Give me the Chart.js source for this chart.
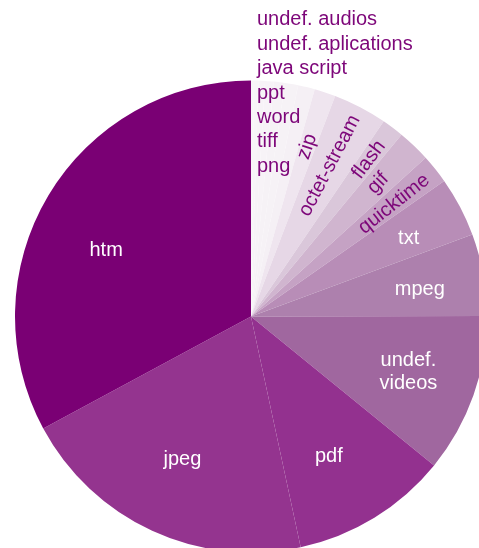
<!DOCTYPE html>
<html>
<head>
<meta charset="utf-8">
<script src="https://cdn.jsdelivr.net/npm/chart.js@4.4.0/dist/chart.umd.min.js"></script>
<style>
  html, body { margin: 0; padding: 0; background: #fff; overflow: hidden; }
  #chart { display: block; }
</style>
</head>
<body>
<canvas id="chart" width="502" height="560"></canvas>
<script>
// share of each file type (percent), clockwise from 12 o'clock
let fileTypes = ['undef. audios', 'undef. aplications', 'java script', 'ppt', 'word', 'tiff', 'png',
    'zip', 'octet-stream', 'flash', 'gif', 'quicktime', 'txt', 'mpeg', 'undef. videos', 'pdf', 'jpeg', 'htm'];
let shares = [0.2, 0.3, 0.45, 0.6, 0.75, 0.9, 1.15,
    1.45, 3.7, 1.5, 2.25, 2.0, 4.1, 5.6, 10.9, 10.75, 20.5, 32.85];

let sliceColors = ['#f8f4f8', '#f8f4f8', '#f7f3f7', '#f7f3f7', '#f6f2f6', '#f6f2f6', '#f5f0f5',
    '#efe5ef', '#e6d7e6', '#dac7da', '#d0b5cf', '#c5a2c4', '#b88db7', '#ad80ad', '#a0679f', '#93318f', '#94348f', '#7a0074'];

const purple = '#7d0679';
const font = '20px "Liberation Sans", Arial, Helvetica, sans-serif';

// how each label is drawn: 'radial' = rotated purple, 'flat' = horizontal white, others stacked above the pie
// r = distance from centre, turn = small angular nudge in degrees
let labelStyle = {
    'zip': { kind: 'radial', r: 179, turn: 0 },
    'octet-stream': { kind: 'radial', r: 170, turn: 0 },
    'flash': { kind: 'radial', r: 196, turn: 0 },
    'gif': { kind: 'radial', r: 184, turn: 0 },
    'quicktime': { kind: 'radial', r: 182, turn: 0.5 },
    'txt': { kind: 'flat', r: 176, turn: 1.3 },
    'mpeg': { kind: 'flat', r: 171, turn: 1 },
    'undef. videos': { kind: 'flat', r: 167, turn: 0 },
    'pdf': { kind: 'flat', r: 160, turn: 2.4 },
    'jpeg': { kind: 'flat', r: 159, turn: 0.8 },
    'htm': { kind: 'flat', r: 159, turn: -6.5 }
};

let sliceLabels = {
    id: 'sliceLabels',
    afterDatasetsDraw(chart) {
        let ctx = chart.ctx;
        let arcs = chart.getDatasetMeta(0).data;
        ctx.save();
        ctx.font = font;
        let stackIndex = 0;
        arcs.forEach((arc, i) => {
            let name = fileTypes[i];
            let style = labelStyle[name];
            if (!style) {
                // tiny slices: listed in a column above the centre
                ctx.fillStyle = purple;
                ctx.textAlign = 'left';
                ctx.textBaseline = 'middle';
                let top = arc.y - arc.outerRadius;
                ctx.fillText(name, arc.x + 6, top + 12.5 + (stackIndex - 3) * 24.4);
                stackIndex++;
                return;
            }
            let mid = (arc.startAngle + arc.endAngle) / 2 + style.turn * Math.PI / 180;
            let x = arc.x + Math.cos(mid) * style.r;
            let y = arc.y + Math.sin(mid) * style.r;
            ctx.textAlign = 'center';
            ctx.textBaseline = 'middle';
            if (style.kind === 'radial') {
                ctx.fillStyle = purple;
                ctx.save();
                ctx.translate(x, y);
                ctx.rotate(mid);
                ctx.fillText(name, 0, 0);
                ctx.restore();
            } else {
                ctx.fillStyle = '#ffffff';
                if (name === 'undef. videos') {
                    ctx.fillText('undef.', x, y - 11.7);
                    ctx.fillText('videos', x, y + 11.7);
                } else {
                    ctx.fillText(name, x, y);
                }
            }
        });
        ctx.restore();
    }
};

new Chart(document.getElementById('chart'), {
    type: 'pie',
    data: {
        labels: fileTypes,
        datasets: [{
            data: shares,
            backgroundColor: sliceColors,
            borderWidth: 0,
            hoverOffset: 0,
            offset: 0
        }]
    },
    options: {
        responsive: false,
        animation: false,
        events: [],
        layout: { padding: { left: 15, right: 15, top: 80.5, bottom: 7.5 } },
        plugins: {
            legend: { display: false },
            tooltip: { enabled: false }
        }
    },
    plugins: [sliceLabels]
});
</script>
</body>
</html>
